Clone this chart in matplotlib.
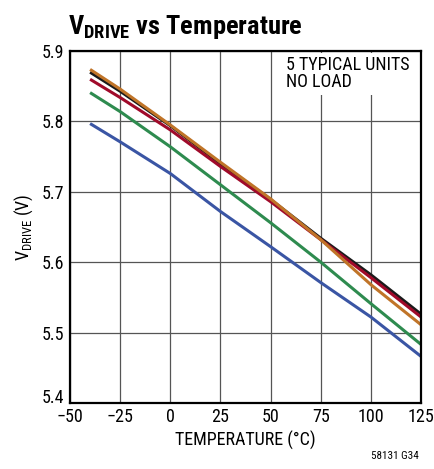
import matplotlib
matplotlib.use("Agg")
import matplotlib.pyplot as plt
from matplotlib.transforms import ScaledTranslation

# condensed sans, close to the datasheet typeface
FONT = "Roboto Condensed"
plt.rcParams["font.family"] = [FONT, "DejaVu Sans"]
plt.rcParams["mathtext.fontset"] = "custom"
plt.rcParams["mathtext.rm"] = FONT
plt.rcParams["mathtext.bf"] = FONT + ":bold"

# ---------------------------------------------------------------------------
# data
# ---------------------------------------------------------------------------
temperature = [-40, -25, 0, 25, 50, 75, 100, 125]
unit_blue = [5.797, 5.771, 5.726, 5.672, 5.622, 5.571, 5.522, 5.466]
unit_green = [5.841, 5.814, 5.764, 5.710, 5.656, 5.600, 5.541, 5.483]
unit_red = [5.860, 5.834, 5.788, 5.736, 5.686, 5.632, 5.578, 5.522]
unit_black = [5.870, 5.843, 5.794, 5.740, 5.689, 5.634, 5.582, 5.526]
unit_orange = [5.874, 5.846, 5.795, 5.742, 5.690, 5.632, 5.568, 5.511]

x_ticks = [-50, -25, 0, 25, 50, 75, 100, 125]
x_labels = ["\u221250", "\u221225", "0", "25", "50", "75", "100", "125"]
y_ticks = [5.4, 5.5, 5.6, 5.7, 5.8, 5.9]

series = [
    (unit_blue, "#3a55a4"),
    (unit_green, "#2e8b4f"),
    (unit_black, "#1a1a1a"),
    (unit_red, "#a00a2a"),
    (unit_orange, "#c07428"),
]

fig = plt.figure(figsize=(4.35, 4.69), dpi=100)
ax = fig.add_axes([0.161, 0.141, 0.807, 0.750])

for values, color in series:
    ax.plot(temperature, values, color=color, lw=2.2, solid_capstyle="butt", zorder=3)

ax.set_xlim(-50, 125)
ax.set_ylim(5.4, 5.9)
ax.set_xticks(x_ticks)
ax.set_xticklabels(x_labels)
ax.set_yticks(y_ticks)
ax.set_yticklabels([f"{v:.1f}" for v in y_ticks])
ax.tick_params(length=0, labelsize=13, pad=4)
ax.grid(True, color="#555555", lw=0.9, zorder=1)
for sp in ax.spines.values():
    sp.set_linewidth(1.6)
    sp.set_zorder(4)

# bottom y label sits a little higher so it clears the -50 label, as in the original
lowest = ax.get_yticklabels()[0]
lowest.set_transform(lowest.get_transform() + ScaledTranslation(0, 5 / 72, fig.dpi_scale_trans))

ax.set_xlabel("TEMPERATURE (\u00b0C)", fontsize=13, labelpad=3)
ax.set_ylabel(r"V$_{\mathrm{DRIVE}}$ (V)", fontsize=13, labelpad=5)

ax.text(0.615, 0.985, "5 TYPICAL UNITS\nNO LOAD", transform=ax.transAxes,
        ha="left", va="top", fontsize=13, linespacing=0.92, zorder=2,
        bbox=dict(facecolor="white", edgecolor="none", pad=2.5))

fig.text(0.156, 0.928, r"V$_{\mathbf{DRIVE}}$ vs Temperature", fontsize=19,
         fontweight="bold", ha="left", va="baseline")
fig.text(0.962, 0.022, "58131 G34", fontsize=8, ha="right", va="baseline")

fig.savefig("out.png", dpi=100)
